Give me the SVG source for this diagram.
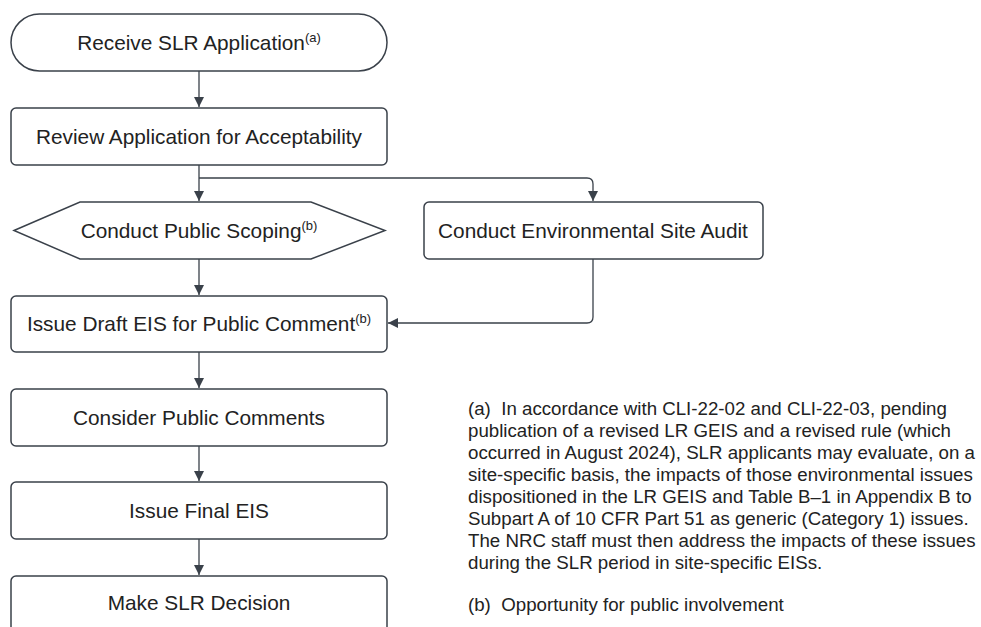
<svg xmlns="http://www.w3.org/2000/svg" width="981" height="627" viewBox="0 0 981 627">
  <defs>
    <marker id="arrow" markerWidth="10" markerHeight="10" refX="10" refY="5" orient="auto" markerUnits="userSpaceOnUse">
      <path d="M0,0 L10,5 L0,10 Z" fill="#3a414a"/>
    </marker>
    <style>
      .shape { fill: #ffffff; stroke: #3a414a; stroke-width: 1.5; }
      .label { font-family: "Liberation Sans", Arial, sans-serif; font-size: 20.8px; fill: #222222; text-anchor: middle; }
      .sup { font-size: 13px; }
      .edge { fill: none; stroke: #3a414a; stroke-width: 1.3; }
      .note { font-family: "Liberation Sans", Arial, sans-serif; font-size: 18.7px; fill: #222222; }
    </style>
  </defs>
  <rect width="981" height="627" fill="#ffffff"/>

  <!-- connectors -->
  <g id="connectors">
    <path class="edge" d="M199,71 L199,107" marker-end="url(#arrow)"/>
    <path class="edge" d="M199,165 L199,201" marker-end="url(#arrow)"/>
    <path class="edge" d="M199,178 L587,178 Q593,178 593,184 L593,201" marker-end="url(#arrow)"/>
    <path class="edge" d="M199,259 L199,295" marker-end="url(#arrow)"/>
    <path class="edge" d="M593,259 L593,317 Q593,323 587,323 L388,323" marker-end="url(#arrow)"/>
    <path class="edge" d="M199,352 L199,388" marker-end="url(#arrow)"/>
    <path class="edge" d="M199,446 L199,481" marker-end="url(#arrow)"/>
    <path class="edge" d="M199,539 L199,575" marker-end="url(#arrow)"/>
  </g>

  <!-- start terminal -->
  <g id="receive">
    <rect class="shape" x="11" y="14" width="376" height="57" rx="28.5" ry="28.5"/>
    <text class="label" x="199" y="50">Receive SLR Application<tspan class="sup" dy="-8">(a)</tspan></text>
  </g>

  <g id="review">
    <rect class="shape" x="11" y="108" width="376" height="57" rx="5"/>
    <text class="label" x="199" y="144">Review Application for Acceptability</text>
  </g>

  <!-- preparation step -->
  <g id="scoping">
    <path class="shape" d="M14,230.5 L80,202 L311,202 L385,230.5 L311,259 L80,259 Z"/>
    <text class="label" x="199" y="238">Conduct Public Scoping<tspan class="sup" dy="-8">(b)</tspan></text>
  </g>

  <g id="audit">
    <rect class="shape" x="424" y="202" width="339" height="57" rx="5"/>
    <text class="label" x="593" y="238">Conduct Environmental Site Audit</text>
  </g>

  <g id="draft">
    <rect class="shape" x="11" y="296" width="376" height="56" rx="5"/>
    <text class="label" x="199" y="331">Issue Draft EIS for Public Comment<tspan class="sup" dy="-8">(b)</tspan></text>
  </g>

  <g id="consider">
    <rect class="shape" x="11" y="389" width="376" height="57" rx="5"/>
    <text class="label" x="199" y="425">Consider Public Comments</text>
  </g>

  <g id="final">
    <rect class="shape" x="11" y="482" width="376" height="57" rx="5"/>
    <text class="label" x="199" y="518">Issue Final EIS</text>
  </g>

  <g id="decision">
    <rect class="shape" x="11" y="576" width="376" height="57" rx="5"/>
    <text class="label" x="199" y="610">Make SLR Decision</text>
  </g>

  <!-- footnotes -->
  <g id="notes">
    <text class="note" x="468" y="415" xml:space="preserve">(a)  In accordance with CLI-22-02 and CLI-22-03, pending</text>
    <text class="note" x="468" y="437">publication of a revised LR GEIS and a revised rule (which</text>
    <text class="note" x="468" y="459">occurred in August 2024), SLR applicants may evaluate, on a</text>
    <text class="note" x="468" y="481">site-specific basis, the impacts of those environmental issues</text>
    <text class="note" x="468" y="503">dispositioned in the LR GEIS and Table B–1 in Appendix B to</text>
    <text class="note" x="468" y="525">Subpart A of 10 CFR Part 51 as generic (Category 1) issues.</text>
    <text class="note" x="468" y="547">The NRC staff must then address the impacts of these issues</text>
    <text class="note" x="468" y="569">during the SLR period in site-specific EISs.</text>
    <text class="note" x="468" y="611" xml:space="preserve">(b)  Opportunity for public involvement</text>
  </g>
</svg>
